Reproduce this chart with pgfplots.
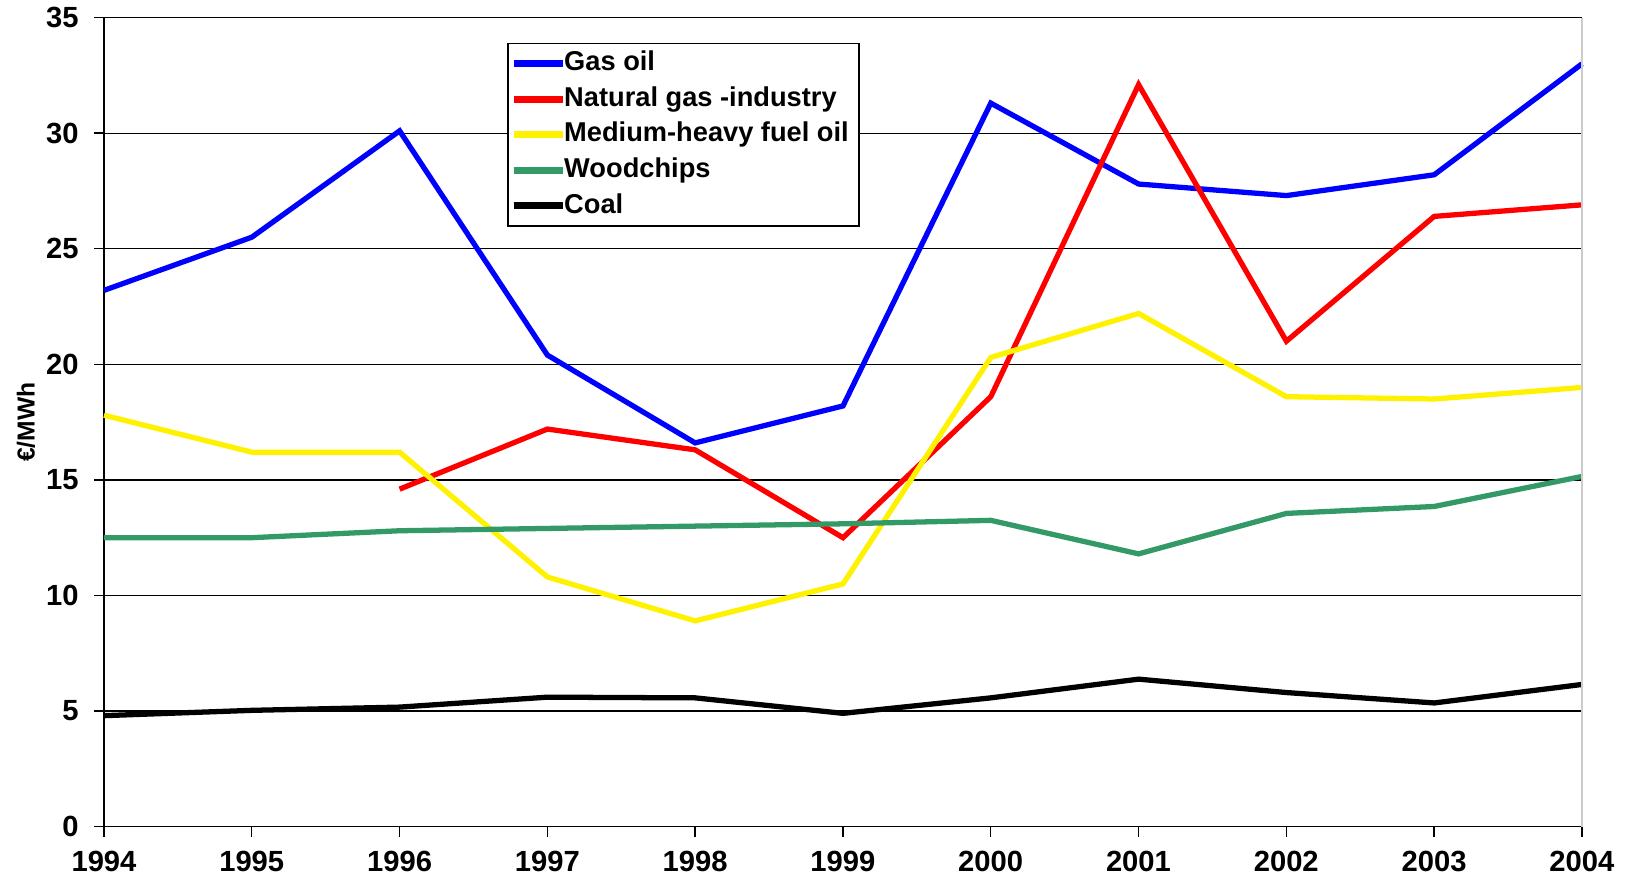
\documentclass[border=0pt]{standalone}
\usepackage{fontspec}
\setmainfont{Liberation Sans}
\usepackage{pgfplots}
\pgfplotsset{compat=1.18}
\definecolor{wood}{RGB}{51,153,102}
\begin{document}
\begin{tikzpicture}
\begin{axis}[
  at={(0,0)}, anchor=south west,
  scale only axis, width=147.8mm, height=80.9mm,
  xmin=1994, xmax=2004, ymin=0, ymax=35,
  xtick={1994,...,2004}, ytick={0,5,...,35},
  /pgf/number format/assume math mode=true,
  /pgf/number format/1000 sep={},
  tick label style={font=\fontsize{8.3}{9}\selectfont\bfseries},
  xticklabel style={yshift=-0.25mm},
  yticklabel style={xshift=-0.3mm},
  axis lines=left,
  axis line style={black, line width=0.4pt, -},
  tick style={black, line width=0.4pt},
  tick align=outside, major tick length=1mm,
  ymajorgrids, grid style={black, line width=0.35pt},
  ylabel={€/MWh},
  ylabel style={font=\fontsize{7}{8}\selectfont\bfseries, at={(axis description cs:-0.0528,0.5)}, anchor=center, rotate=0},
  legend style={at={(rel axis cs:0.2727,0.969)}, anchor=north west, draw=black, line width=0.5pt,
    font=\fontsize{7.75}{9}\selectfont\bfseries, inner xsep=0.3mm, inner ysep=0.05mm, row sep=-0.35mm,
    legend cell align=left, /tikz/every odd column/.style={column sep=-0.3mm}},
  legend image code/.code={\path (0mm,0mm) -- (4.4mm,0mm); \draw[#1, line width=2pt, overlay] (0mm,0mm) -- (4.9mm,0mm);},
  every axis plot/.append style={line width=1.5pt},
  clip=false,
]
\addplot[blue] coordinates {(1994,23.2)(1995,25.5)(1996,30.1)(1997,20.4)(1998,16.6)(1999,18.2)(2000,31.3)(2001,27.8)(2002,27.3)(2003,28.2)(2004,33.0)};
\addlegendentry{Gas oil}
\addplot[red] coordinates {(1996,14.6)(1997,17.2)(1998,16.3)(1999,12.5)(2000,18.6)(2001,32.1)(2002,21.0)(2003,26.4)(2004,26.9)};
\addlegendentry{Natural gas -industry}
\addplot[yellow] coordinates {(1994,17.8)(1995,16.2)(1996,16.2)(1997,10.8)(1998,8.9)(1999,10.5)(2000,20.3)(2001,22.2)(2002,18.6)(2003,18.5)(2004,19.0)};
\addlegendentry{Medium-heavy fuel oil}
\addplot[wood] coordinates {(1994,12.5)(1995,12.5)(1996,12.8)(1997,12.9)(1998,13.0)(1999,13.1)(2000,13.25)(2001,11.8)(2002,13.55)(2003,13.85)(2004,15.15)};
\addlegendentry{Woodchips}
\addplot[black] coordinates {(1994,4.8)(1995,5.03)(1996,5.17)(1997,5.6)(1998,5.57)(1999,4.9)(2000,5.57)(2001,6.38)(2002,5.8)(2003,5.35)(2004,6.15)};
\addlegendentry{Coal}
\draw[gray!40, line width=0.35pt] (rel axis cs:1,0) -- (rel axis cs:1,1);
\end{axis}
\pgfresetboundingbox
\path (-10.4mm,-5.05mm) rectangle (152.4mm,82.66mm);
\end{tikzpicture}
\end{document}
